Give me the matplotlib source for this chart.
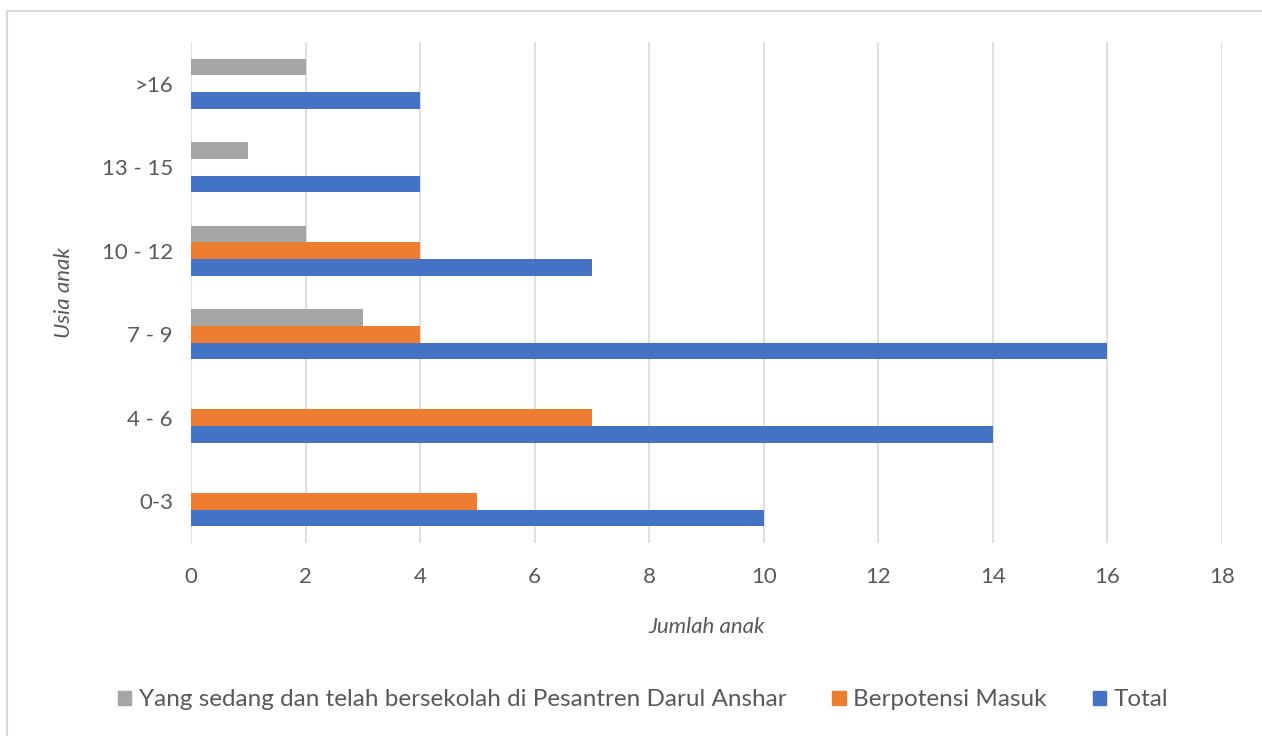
import matplotlib
matplotlib.use("Agg")
import matplotlib.pyplot as plt
from matplotlib.patches import Rectangle, Patch
import numpy as np

plt.rcParams['font.family'] = ['Lato', 'DejaVu Sans']

categories = ["0-3", "4 - 6", "7 - 9", "10 - 12", "13 - 15", ">16"]
total = [10, 14, 16, 7, 4, 4]
berpotensi = [5, 7, 4, 4, 0, 0]
bersekolah = [0, 0, 3, 2, 1, 2]

series_names = ["Yang sedang dan telah bersekolah di Pesantren Darul Anshar",
                "Berpotensi Masuk", "Total"]
colors = {"Total": "#4472C4", "Berpotensi Masuk": "#ED7D31",
          series_names[0]: "#A5A5A5"}
xticks = [0, 2, 4, 6, 8, 10, 12, 14, 16, 18]

text_color = "#595959"
grid_color = "#D9D9D9"
fs = 16

fig = plt.figure(figsize=(12.62, 7.36), dpi=100)
ax = fig.add_axes([191/1262, 1-543/736, (1222-191)/1262, (543-42)/736])

y = np.arange(len(categories))
h = 0.2
ax.barh(y - h, total, height=h, color=colors["Total"], zorder=3)
ax.barh(y, berpotensi, height=h, color=colors["Berpotensi Masuk"], zorder=3)
ax.barh(y + h, bersekolah, height=h, color=colors[series_names[0]], zorder=3)

ax.set_xlim(0, 18)
ax.set_ylim(-0.5, len(categories) - 0.5)
ax.set_xticks(xticks)
ax.set_xticklabels([str(t) for t in xticks])
ax.set_yticks(y)
ax.set_yticklabels(categories)
ax.tick_params(axis='both', length=0, labelsize=fs, colors=text_color)
ax.tick_params(axis='x', pad=17)
ax.tick_params(axis='y', pad=13)
ax.xaxis.grid(True, color=grid_color, linewidth=1.2, zorder=0)
for s in ax.spines.values():
    s.set_visible(False)

ax.set_xlabel("Jumlah anak", fontsize=fs, style='italic', color=text_color, labelpad=22)
ax.set_ylabel("Usia anak", fontsize=fs, style='italic', color=text_color, labelpad=20)

handles = [Patch(color=colors[n]) for n in series_names]
fig.legend(handles, series_names, loc='center', bbox_to_anchor=(643/1262, 1-700/736),
           ncol=3, frameon=False, fontsize=17.5, handlelength=0.55, handleheight=0.55,
           handletextpad=0.3, columnspacing=1.9, labelcolor=text_color)

fig.patches.append(Rectangle((7/1262, -0.05), 1.1, 1 - 10.5/736 + 0.05,
                             transform=fig.transFigure, fill=False,
                             edgecolor=grid_color, linewidth=1.5))

fig.savefig("out.png", dpi=100, facecolor="white")
